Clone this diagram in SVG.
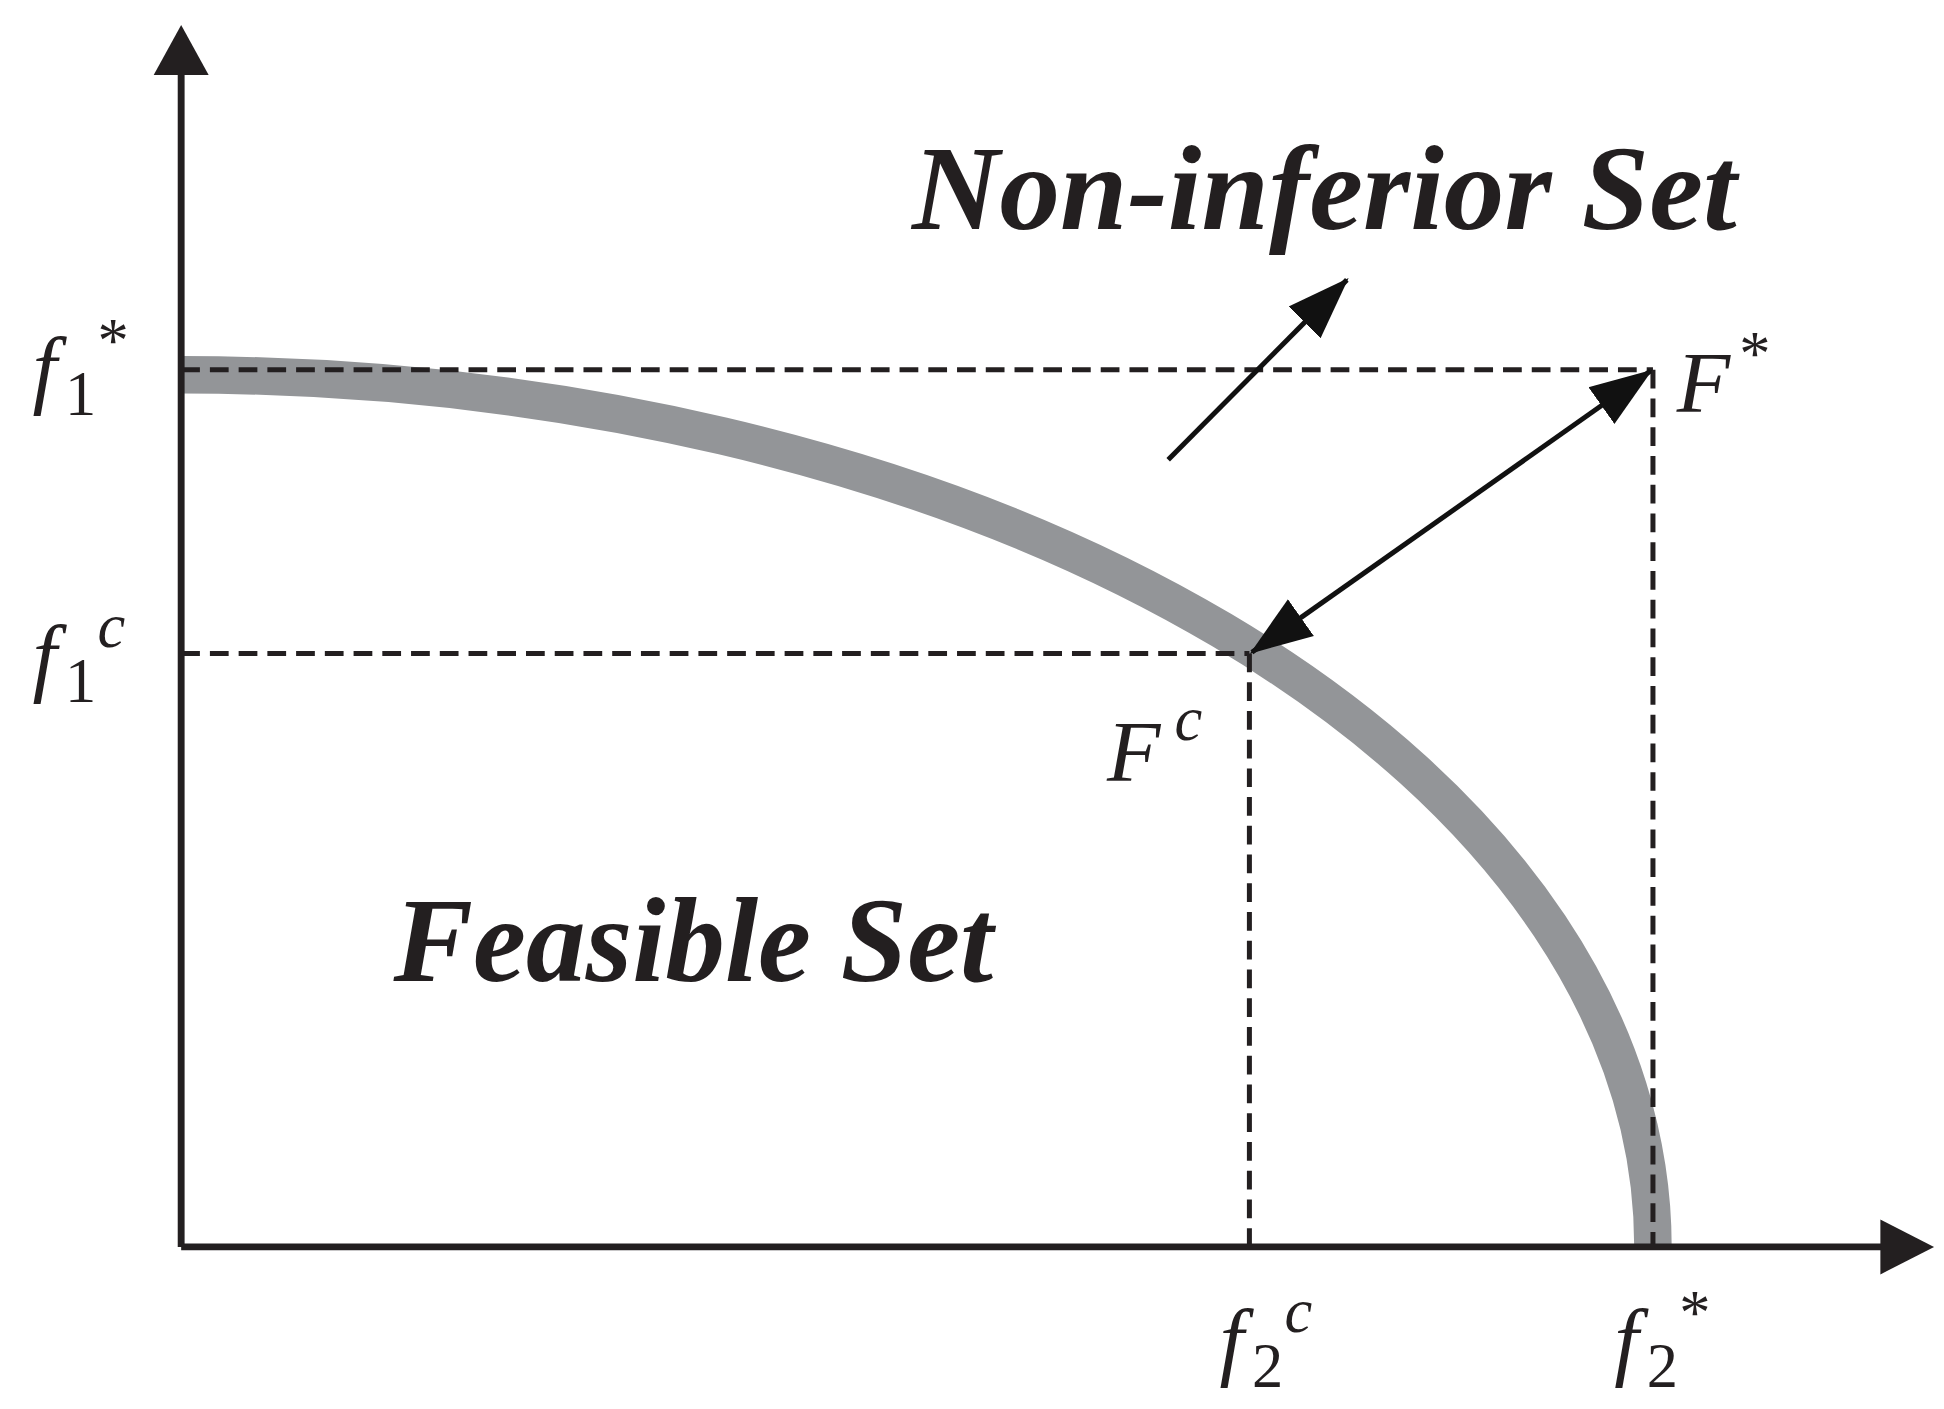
<svg xmlns="http://www.w3.org/2000/svg" width="1944" height="1409" viewBox="0 0 1944 1409">
<style>
.ax{stroke:#231f20;stroke-width:5.5;fill:none}
.d{stroke:#231f20;stroke-width:4;stroke-dasharray:15 8;fill:none}
.ar{stroke:#111;stroke-width:4;fill:none}
.t{font-family:"Liberation Serif",serif;font-style:italic;font-weight:700;fill:#231f20;font-size:96px}
.m{font-family:"Liberation Serif",serif;font-style:italic;fill:#231f20;font-size:70px}
.s{font-family:"Liberation Serif",serif;font-style:normal;fill:#231f20;font-size:50px}
.c{font-family:"Liberation Serif",serif;font-style:italic;fill:#231f20;font-size:50px}
</style>
<defs>
<marker id="h" markerUnits="userSpaceOnUse" markerWidth="50" markerHeight="40" refX="48" refY="20" orient="auto-start-reverse" viewBox="0 0 50 40"><path d="M0,2 L50,20 L0,38 Z" fill="#111"/></marker>
</defs>
<rect width="1944" height="1409" fill="#fff"/>
<g transform="scale(1.2494)">
<g id="curve"><path d="M145,300 A1178,698 0 0 1 1323,998" stroke="#939598" stroke-width="30" fill="none"/></g>
<g id="connectors">
<line class="d" x1="145" y1="296" x2="1323" y2="296"/>
<line class="d" x1="1323" y1="296" x2="1323" y2="998"/>
<line class="d" x1="145" y1="523" x2="1000" y2="523"/>
<line class="d" x1="1000" y1="523" x2="1000" y2="998"/>
<line class="ax" x1="145" y1="998" x2="145" y2="50"/>
<path d="M145,20 L123,60 L167,60 Z" fill="#231f20"/>
<line class="ax" x1="145" y1="998" x2="1510" y2="998"/>
<path d="M1548,998 L1505,976 L1505,1020 Z" fill="#231f20"/>
<line class="ar" x1="935" y1="368" x2="1078" y2="224" marker-end="url(#h)"/>
<line class="ar" x1="1002" y1="522" x2="1321" y2="297" marker-start="url(#h)" marker-end="url(#h)"/>
</g>
<g id="labels">
<text class="t" x="730" y="183" textLength="660" lengthAdjust="spacingAndGlyphs">Non-inferior Set</text>
<text class="t" x="315" y="785" textLength="480" lengthAdjust="spacingAndGlyphs">Feasible Set</text>
<text class="m" x="26" y="318">f</text><text class="s" x="52" y="332">1</text><text class="s" x="78" y="290">*</text>
<text class="m" x="26" y="548">f</text><text class="s" x="52" y="562">1</text><text class="c" x="78" y="518">c</text>
<text class="m" x="976" y="1096">f</text><text class="s" x="1002" y="1110">2</text><text class="c" x="1028" y="1066">c</text>
<text class="m" x="1292" y="1096">f</text><text class="s" x="1318" y="1110">2</text><text class="s" x="1344" y="1068">*</text>
<text class="m" x="1342" y="330">F</text><text class="s" x="1392" y="300">*</text>
<text class="m" x="886" y="625">F</text><text class="c" x="940" y="592">c</text>
</g>
</g>
</svg>
